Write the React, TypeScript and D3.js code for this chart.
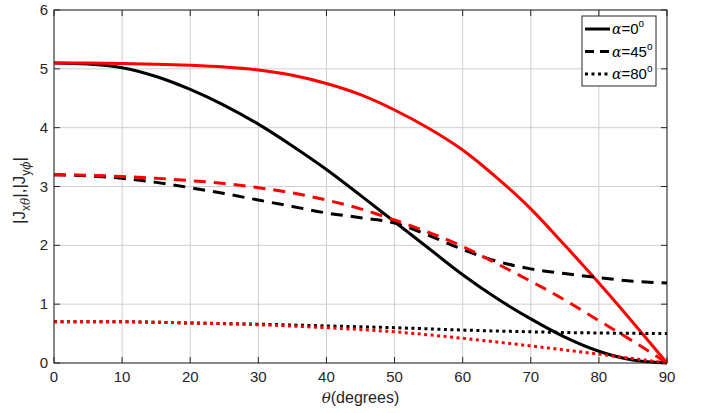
import React from "react";
import * as d3 from "d3";

const thetaFine = [0, 5, 10, 15, 20, 25, 30, 35, 40, 45, 50, 55, 60, 65, 70, 75, 80, 85, 90];
const thetaCoarse = [0, 10, 20, 30, 40, 50, 60, 70, 80, 90];

const black0 = [5.1, 5.08, 5.02, 4.87, 4.65, 4.38, 4.06, 3.69, 3.29, 2.85, 2.4, 1.95, 1.5, 1.1, 0.75, 0.44, 0.2, 0.05, 0];
const red0 = [5.1, 5.1, 5.09, 5.08, 5.06, 5.03, 4.98, 4.89, 4.75, 4.56, 4.3, 3.99, 3.62, 3.15, 2.62, 2.0, 1.36, 0.69, 0];
const black45 = [3.2, 3.18, 3.14, 3.07, 2.98, 2.88, 2.77, 2.66, 2.55, 2.47, 2.38, 2.17, 1.93, 1.73, 1.6, 1.52, 1.45, 1.39, 1.36];
const red45 = [3.2, 3.19, 3.17, 3.14, 3.1, 3.05, 2.98, 2.89, 2.77, 2.62, 2.43, 2.22, 1.98, 1.69, 1.39, 1.07, 0.72, 0.37, 0];
const black80 = [0.7, 0.7, 0.68, 0.66, 0.63, 0.6, 0.56, 0.53, 0.51, 0.5];
const red80 = [0.7, 0.7, 0.68, 0.65, 0.6, 0.53, 0.42, 0.29, 0.15, 0];

const xTicks = [0, 10, 20, 30, 40, 50, 60, 70, 80, 90];
const yTicks = [0, 1, 2, 3, 4, 5, 6];
const legendLabels = ["0", "45", "80"];

const W = 704, H = 413;
const L = 54, R = 667, T = 10, B = 363;

export default function App() {
  const x = d3.scaleLinear().domain([0, 90]).range([L, R]);
  const y = d3.scaleLinear().domain([0, 6]).range([B, T]);
  const mk = (xs: number[], ys: number[]) =>
    d3.line<number>().x((_, i) => x(xs[i])).y((d) => y(d)).curve(d3.curveMonotoneX)(ys) || "";

  const series = [
    { xs: thetaFine, ys: black0, c: "#000", dash: "none" },
    { xs: thetaFine, ys: red0, c: "#ff0000", dash: "none" },
    { xs: thetaFine, ys: black45, c: "#000", dash: "12,8" },
    { xs: thetaFine, ys: red45, c: "#ff0000", dash: "12,8" },
    { xs: thetaCoarse, ys: black80, c: "#000", dash: "3,3.5" },
    { xs: thetaCoarse, ys: red80, c: "#ff0000", dash: "3,3.5" },
  ];
  const legDash = ["none", "9,6", "3,3.5"];
  const font = "'Liberation Sans', Arial, Helvetica, sans-serif";
  const tickCol = "#262626";

  return (
    <svg width={W} height={H} style={{ position: "absolute", left: 0, top: 0, background: "#fff" }} fontFamily={font}>
      <rect x={0} y={0} width={W} height={H} fill="#fff" />
      <defs>
        <clipPath id="clip">
          <rect x={L - 2} y={T} width={R - L + 4} height={B - T + 2} />
        </clipPath>
      </defs>
      {xTicks.map((t) => (
        <line key={"gx" + t} x1={x(t)} x2={x(t)} y1={T} y2={B} stroke="#cfcfcf" strokeWidth={1} />
      ))}
      {yTicks.map((t) => (
        <line key={"gy" + t} x1={L} x2={R} y1={y(t)} y2={y(t)} stroke="#cfcfcf" strokeWidth={1} />
      ))}
      {xTicks.map((t) => (
        <g key={"tx" + t}>
          <line x1={x(t)} x2={x(t)} y1={B} y2={B - 6} stroke={tickCol} />
          <line x1={x(t)} x2={x(t)} y1={T} y2={T + 6} stroke={tickCol} />
          <text x={x(t)} y={B + 19} textAnchor="middle" fontSize={15} fill={tickCol}>{t}</text>
        </g>
      ))}
      {yTicks.map((t) => (
        <g key={"ty" + t}>
          <line x1={L} x2={L + 6} y1={y(t)} y2={y(t)} stroke={tickCol} />
          <line x1={R} x2={R - 6} y1={y(t)} y2={y(t)} stroke={tickCol} />
          <text x={L - 6} y={y(t) + 5} textAnchor="end" fontSize={15} fill={tickCol}>{t}</text>
        </g>
      ))}
      <g clipPath="url(#clip)">
        {series.map((s, i) => (
          <path key={i} d={mk(s.xs, s.ys)} fill="none" stroke={s.c} strokeWidth={3} strokeDasharray={s.dash} />
        ))}
      </g>
      <rect x={L} y={T} width={R - L} height={B - T} fill="none" stroke={tickCol} strokeWidth={1} />
      <text x={(L + R) / 2} y={403} textAnchor="middle" fontSize={16} fill={tickCol}>
        <tspan fontFamily="'DejaVu Serif', serif" fontStyle="italic" fontSize={15}>θ</tspan>
        <tspan>(degrees)</tspan>
      </text>
      <text transform={`translate(25, ${(T + B) / 2 + 4}) rotate(-90)`} textAnchor="middle" fontSize={17} fill={tickCol}>
        <tspan>|J</tspan>
        <tspan fontSize={12} dy={5}>x</tspan>
        <tspan fontSize={12} fontFamily="'DejaVu Serif', serif" fontStyle="italic">θ</tspan>
        <tspan dy={-5}>|,|J</tspan>
        <tspan fontSize={12} dy={5}>y</tspan>
        <tspan fontSize={12} fontFamily="'DejaVu Serif', serif" fontStyle="italic">ϕ</tspan>
        <tspan dy={-5}>|</tspan>
      </text>
      <rect x={582} y={16} width={74} height={70} fill="#fff" stroke={tickCol} strokeWidth={1} />
      {legendLabels.map((lab, i) => {
        const ly = 29 + i * 22.5;
        return (
          <g key={lab}>
            <line x1={585} x2={610} y1={ly} y2={ly} stroke="#000" strokeWidth={3} strokeDasharray={legDash[i]} />
            <text x={612} y={ly + 5} fontSize={15} fill="#000">
              <tspan fontFamily="'DejaVu Serif', serif" fontStyle="italic" fontSize={14}>α</tspan>
              <tspan>={lab}</tspan>
              <tspan fontSize={10} dy={-7}>o</tspan>
            </text>
          </g>
        );
      })}
    </svg>
  );
}
